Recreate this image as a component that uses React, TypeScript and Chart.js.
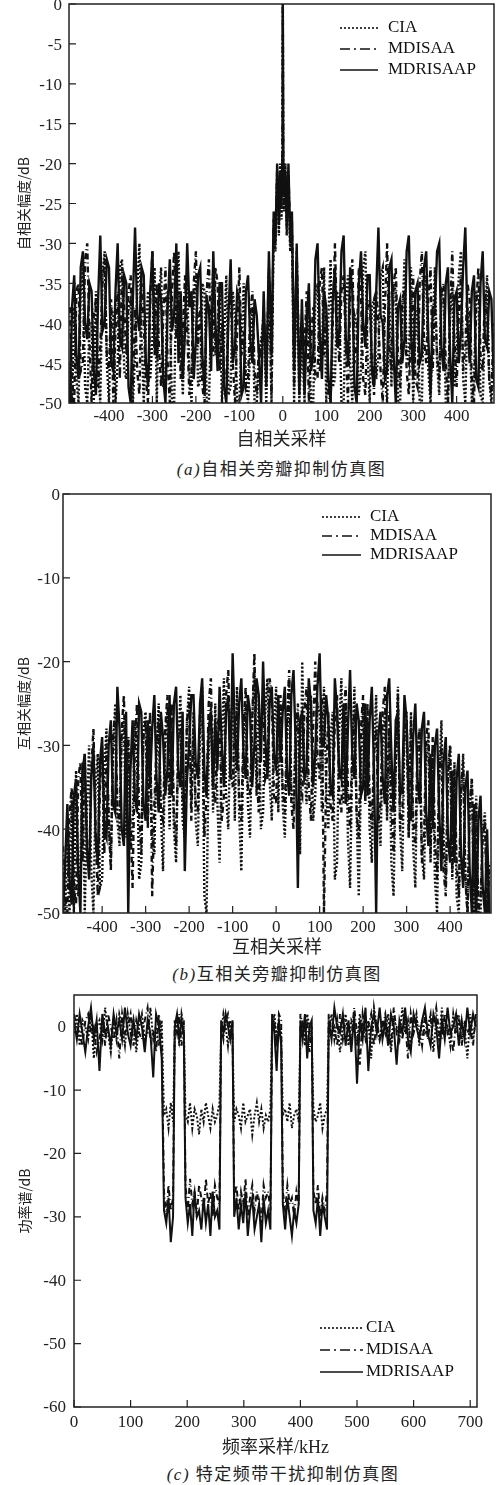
import React, { useEffect, useRef } from 'react';
import { Chart, registerables } from 'chart.js';

Chart.register(...registerables);

const SERIES = ['CIA', 'MDISAA', 'MDRISAAP'];
const FONT_SERIF = "'Liberation Serif', 'Noto Sans CJK SC', serif";
const FONT_CJK = "'Noto Sans CJK SC', sans-serif";

// ---------- Panel (a): autocorrelation sidelobes ----------
const X_A = [
  -490, -485, -480, -475, -470, -465, -460, -455, -450, -445,
  -440, -435, -430, -425, -420, -415, -410, -405, -400, -395,
  -390, -385, -380, -375, -370, -365, -360, -355, -350, -345,
  -340, -335, -330, -325, -320, -315, -310, -305, -300, -295,
  -290, -285, -280, -275, -270, -265, -260, -255, -250, -245,
  -240, -235, -230, -225, -220, -215, -210, -205, -200, -195,
  -190, -185, -180, -175, -170, -165, -160, -155, -150, -145,
  -140, -135, -130, -125, -120, -115, -110, -105, -100, -95,
  -90, -85, -80, -75, -70, -65, -60, -55, -50,
  -44, -38, -32, -26, -21, -17, -13, -9, -6, -3, -1, 0, 1, 3, 6, 9, 13, 17, 21, 26, 32, 38, 44,
  50, 55, 60, 65, 70, 75, 80, 85, 90, 95,
  100, 105, 110, 115, 120, 125, 130, 135, 140, 145,
  150, 155, 160, 165, 170, 175, 180, 185, 190, 195,
  200, 205, 210, 215, 220, 225, 230, 235, 240, 245,
  250, 255, 260, 265, 270, 275, 280, 285, 290, 295,
  300, 305, 310, 315, 320, 325, 330, 335, 340, 345,
  350, 355, 360, 365, 370, 375, 380, 385, 390, 395,
  400, 405, 410, 415, 420, 425, 430, 435, 440, 445,
  450, 455, 460, 465, 470, 475, 480, 485, 490,
];
const CIA_A = [
  -45, -50, -38, -47, -50, -36, -33, -48, -50, -40,
  -40, -50, -36, -46, -50, -34, -31, -45, -50, -38,
  -39, -50, -45, -33, -32, -46, -47, -38, -37, -50,
  -44, -36, -30, -42, -50, -40, -36, -47, -42, -33,
  -50, -37, -33, -48, -46, -36, -38, -50, -50, -35,
  -31, -43, -49, -38, -35, -46, -50, -37, -34, -48,
  -47, -35, -36, -50, -50, -39, -33, -44, -41, -35,
  -50, -42, -34, -49, -48, -36, -39, -50, -50, -42,
  -35, -47, -50, -43, -38, -50, -50, -45, -42,
  -40, -50, -34, -50, -28, -31, -22, -29, -20, -27, -21, 0, -21, -26, -20, -29, -22, -31, -28, -50, -33, -50, -42,
  -50, -38, -41, -50, -50, -37, -35, -46, -44, -33,
  -50, -39, -32, -48, -47, -36, -38, -50, -50, -37,
  -34, -45, -50, -39, -40, -49, -46, -33, -31, -44,
  -50, -38, -37, -47, -44, -34, -33, -46, -50, -36,
  -48, -35, -36, -50, -50, -40, -32, -44, -45, -33,
  -50, -42, -38, -50, -50, -36, -34, -46, -50, -41,
  -33, -45, -49, -36, -37, -50, -50, -39, -35, -48,
  -44, -34, -31, -47, -50, -38, -41, -50, -47, -36,
  -36, -49, -50, -40, -34, -47, -50, -44, -45,
];
const MDISAA_A = [
  -38, -47, -50, -36, -35, -46, -45, -32, -30, -42,
  -50, -39, -37, -48, -43, -35, -32, -44, -46, -37,
  -50, -41, -36, -47, -33, -38, -44, -36, -34, -48,
  -38, -46, -49, -35, -40, -47, -50, -37, -31, -44,
  -35, -43, -48, -39, -33, -45, -50, -36, -31, -42,
  -36, -47, -41, -34, -41, -49, -46, -35, -31, -43,
  -38, -48, -50, -36, -32, -44, -44, -33, -35, -46,
  -40, -47, -47, -38, -36, -45, -50, -41, -33, -44,
  -41, -48, -47, -39, -36, -46, -49, -43, -44,
  -38, -47, -33, -49, -27, -29, -21, -28, -22, -26, -20, 0, -20, -25, -22, -27, -21, -29, -27, -48, -31, -46, -40,
  -43, -36, -50, -42, -38, -47, -47, -35, -33, -44,
  -39, -49, -50, -40, -30, -41, -45, -36, -34, -43,
  -50, -37, -32, -45, -43, -33, -37, -47, -49, -38,
  -37, -45, -49, -36, -40, -46, -50, -38, -30, -43,
  -46, -35, -33, -44, -48, -37, -36, -46, -49, -40,
  -34, -47, -48, -35, -31, -42, -45, -37, -33, -46,
  -37, -44, -47, -36, -35, -45, -50, -38, -31, -42,
  -48, -39, -34, -46, -43, -35, -37, -47, -50, -38,
  -33, -44, -46, -36, -39, -47, -49, -40, -48,
];
const MDRISAAP_A = [
  -50, -38, -34, -44, -47, -33, -31, -40, -42, -35,
  -36, -46, -49, -37, -29, -41, -40, -32, -33, -45,
  -46, -36, -30, -42, -43, -34, -35, -48, -50, -37,
  -28, -39, -41, -33, -34, -45, -48, -36, -31, -43,
  -44, -35, -37, -47, -50, -38, -32, -41, -39, -30,
  -45, -36, -47, -41, -30, -38, -36, -47, -42, -34,
  -33, -44, -49, -37, -38, -46, -31, -40, -46, -35,
  -35, -48, -50, -39, -32, -45, -43, -36, -37, -49,
  -48, -36, -34, -42, -45, -37, -39, -44, -50,
  -36, -48, -31, -44, -26, -30, -20, -27, -21, -25, -19, 0, -19, -24, -21, -28, -20, -30, -26, -46, -30, -49, -37,
  -49, -40, -35, -46, -44, -32, -30, -41, -47, -36,
  -38, -47, -50, -37, -33, -43, -41, -31, -29, -42,
  -45, -33, -36, -48, -50, -35, -31, -40, -43, -34,
  -34, -46, -48, -36, -28, -39, -40, -47, -46, -33,
  -32, -44, -50, -38, -37, -45, -42, -31, -29, -41,
  -47, -36, -35, -45, -44, -33, -31, -42, -49, -38,
  -38, -31, -30, -43, -46, -35, -33, -44, -50, -37,
  -36, -45, -41, -33, -28, -40, -45, -36, -34, -47,
  -48, -35, -31, -42, -43, -36, -37, -46, -50,
];
const XTICKS_A = [-400, -300, -200, -100, 0, 100, 200, 300, 400];
const YTICKS_A = [0, -5, -10, -15, -20, -25, -30, -35, -40, -45, -50];

// ---------- Panel (b): cross-correlation sidelobes ----------
const X_B = [
  -490, -485, -480, -475, -470, -465, -460, -455, -450, -445,
  -440, -435, -430, -425, -420, -415, -410, -405, -400, -395,
  -390, -385, -380, -375, -370, -365, -360, -355, -350, -345,
  -340, -335, -330, -325, -320, -315, -310, -305, -300, -295,
  -290, -285, -280, -275, -270, -265, -260, -255, -250, -245,
  -240, -235, -230, -225, -220, -215, -210, -205, -200, -195,
  -190, -185, -180, -175, -170, -165, -160, -155, -150, -145,
  -140, -135, -130, -125, -120, -115, -110, -105, -100, -95,
  -90, -85, -80, -75, -70, -65, -60, -55, -50, -45,
  -40, -35, -30, -25, -20, -15, -10, -5, 0, 5,
  10, 15, 20, 25, 30, 35, 40, 45, 50, 55,
  60, 65, 70, 75, 80, 85, 90, 95, 100, 105,
  110, 115, 120, 125, 130, 135, 140, 145, 150, 155,
  160, 165, 170, 175, 180, 185, 190, 195, 200, 205,
  210, 215, 220, 225, 230, 235, 240, 245, 250, 255,
  260, 265, 270, 275, 280, 285, 290, 295, 300, 305,
  310, 315, 320, 325, 330, 335, 340, 345, 350, 355,
  360, 365, 370, 375, 380, 385, 390, 395, 400, 405,
  410, 415, 420, 425, 430, 435, 440, 445, 450, 455,
  460, 465, 470, 475, 480, 485, 490,
];
const CIA_B = [
  -46, -50, -40, -50, -36, -50, -33, -48, -44, -32,
  -50, -38, -30, -45, -50, -35, -31, -47, -46, -33,
  -28, -40, -44, -32, -25, -39, -42, -29, -27, -41,
  -29, -42, -40, -27, -31, -46, -44, -28, -26, -39,
  -29, -41, -43, -31, -25, -38, -45, -30, -26, -40,
  -28, -40, -44, -30, -24, -39, -41, -27, -23, -37,
  -26, -39, -42, -29, -23, -48, -50, -31, -25, -38,
  -25, -37, -44, -30, -22, -36, -40, -28, -24, -39,
  -23, -38, -45, -29, -25, -37, -41, -27, -21, -36,
  -24, -40, -38, -26, -22, -34, -39, -28, -23, -38,
  -25, -37, -41, -30, -22, -35, -38, -27, -26, -43,
  -20, -33, -37, -28, -24, -39, -36, -25, -26, -38,
  -23, -35, -40, -29, -26, -46, -44, -28, -22, -37,
  -25, -41, -47, -32, -23, -38, -48, -34, -25, -36,
  -27, -40, -44, -31, -24, -38, -42, -30, -26, -39,
  -28, -44, -48, -33, -23, -40, -45, -29, -27, -41,
  -26, -42, -47, -31, -28, -43, -46, -32, -29, -44,
  -30, -46, -50, -34, -27, -41, -47, -33, -30, -46,
  -32, -48, -50, -36, -31, -45, -50, -38, -34, -50,
  -36, -50, -50, -40, -38, -50, -44,
];
const MDISAA_B = [
  -42, -48, -50, -38, -35, -47, -49, -34, -32, -44,
  -31, -43, -45, -33, -28, -40, -48, -35, -30, -43,
  -30, -38, -45, -29, -26, -37, -40, -28, -24, -36,
  -29, -39, -47, -31, -25, -38, -43, -29, -27, -40,
  -26, -48, -37, -30, -27, -38, -39, -28, -24, -36,
  -25, -38, -42, -29, -28, -36, -40, -27, -25, -39,
  -28, -37, -38, -26, -24, -41, -36, -25, -22, -35,
  -37, -28, -26, -39, -36, -24, -21, -33, -35, -27,
  -26, -36, -39, -28, -23, -35, -36, -27, -19, -33,
  -38, -27, -25, -34, -33, -22, -24, -36, -37, -26,
  -24, -35, -38, -27, -21, -37, -40, -29, -25, -35,
  -36, -26, -23, -35, -39, -28, -20, -31, -34, -24,
  -50, -34, -26, -37, -39, -27, -24, -36, -38, -26,
  -23, -35, -40, -30, -26, -38, -41, -28, -24, -37,
  -25, -36, -40, -31, -28, -39, -37, -26, -23, -38,
  -26, -37, -43, -32, -24, -40, -38, -28, -26, -41,
  -27, -39, -42, -30, -28, -44, -41, -29, -27, -43,
  -29, -41, -46, -33, -30, -45, -48, -34, -30, -45,
  -33, -44, -48, -35, -32, -46, -50, -37, -34, -48,
  -37, -50, -48, -41, -39, -50, -45,
];
const MDRISAAP_B = [
  -50, -44, -37, -46, -49, -36, -34, -45, -50, -33,
  -31, -42, -46, -34, -30, -41, -44, -32, -29, -40,
  -41, -30, -27, -37, -38, -23, -28, -40, -42, -26,
  -50, -33, -27, -36, -38, -25, -26, -37, -39, -27,
  -35, -28, -24, -34, -38, -26, -29, -36, -33, -24,
  -36, -25, -23, -33, -35, -26, -45, -34, -30, -24,
  -24, -32, -34, -25, -22, -33, -36, -28, -26, -35,
  -27, -33, -23, -30, -35, -26, -24, -34, -19, -28,
  -33, -25, -22, -31, -34, -24, -26, -35, -30, -22,
  -24, -32, -20, -29, -34, -25, -23, -31, -33, -24,
  -32, -26, -23, -33, -36, -24, -21, -30, -47, -27,
  -26, -34, -33, -22, -25, -35, -31, -23, -19, -30,
  -30, -24, -27, -35, -36, -22, -26, -33, -34, -25,
  -37, -28, -21, -31, -34, -25, -27, -36, -35, -25,
  -36, -27, -23, -33, -50, -29, -26, -34, -37, -24,
  -22, -31, -38, -27, -26, -36, -35, -24, -27, -37,
  -39, -29, -25, -34, -37, -28, -26, -38, -42, -31,
  -40, -30, -28, -38, -45, -32, -29, -41, -44, -33,
  -44, -34, -31, -43, -47, -35, -33, -45, -50, -37,
  -50, -39, -36, -47, -50, -40, -50,
];
const XTICKS_B = [-400, -300, -200, -100, 0, 100, 200, 300, 400];
const YTICKS_B = [0, -10, -20, -30, -40, -50];

// ---------- Panel (c): power spectrum with notched bands ----------
const X_C = [
  0, 5, 10, 15, 20, 25, 30, 35, 40, 45, 50, 55, 60, 65, 70, 75, 80, 85, 90, 95,
  100, 105, 110, 115, 120, 125, 130, 135, 140, 145, 150, 155,
  159, 163, 167, 171, 175,
  178, 182, 186, 190, 194,
  197, 201, 205, 209, 213, 217, 221, 225, 229, 233, 237, 241, 245, 249, 253, 257,
  260, 264, 268, 272, 276, 280,
  283, 287, 291, 295, 299, 303, 307, 311, 315, 319, 323, 327, 331, 335, 339, 343, 347,
  350, 354, 358, 362, 366,
  369, 373, 377, 381, 385, 389, 393, 397,
  400, 404, 408, 412, 416, 420,
  423, 427, 431, 435, 439, 443, 447,
  450, 455, 460, 465, 470, 475, 480, 485, 490, 495,
  500, 505, 510, 515, 520, 525, 530, 535, 540, 545,
  550, 555, 560, 565, 570, 575, 580, 585, 590, 595,
  600, 605, 610, 615, 620, 625, 630, 635, 640, 645,
  650, 655, 660, 665, 670, 675, 680, 685, 690, 695,
  700, 705, 710,
];
const CIA_C = [
  -1, 2, -3, 1, 0, -2, 2, -5, 0, 1, -2, 3, -1, -4, 1, -2, 2, 0, -3, 2,
  -1, 1, -4, 0, 2, -2, -1, 3, -2, 0, -3, 1,
  -14, -13, -16, -12, -15,
  -2, 1, -3, 2, 0,
  -14, -15, -12, -16, -13, -14, -17, -13, -15, -12, -14, -16, -13, -15, -14, -12,
  -1, 2, 0, -3, 1, -1,
  -15, -13, -14, -16, -12, -15, -14, -13, -17, -14, -12, -15, -13, -16, -14, -15, -13,
  0, 2, -2, 1, -1,
  -14, -13, -15, -12, -16, -14, -13, -15,
  -1, 1, -3, 2, 0, -2,
  -13, -15, -14, -12, -16, -14, -13,
  -1, 2, -2, 1, -4, 0, 2, -3, 1, 0,
  -3, 2, 0, -2, 1, -5, 3, 0, -2, 1,
  -1, 2, -4, 1, 0, -2, 3, -1, 1, -3,
  0, 2, -3, 1, -1, 0, 2, -4, 1, -2,
  3, -1, 0, -3, 2, -1, 1, -2, 0, -5,
  2, -2, 1,
];
const MDISAA_C = [
  2, 0, -1, -3, 1, 2, -1, 0, -4, -2, 1, -3, 2, 0, -2, 1, -5, 2, -1, 0,
  2, -3, 1, -1, -2, 1, 3, -2, -1, -4, 2, -2,
  -26, -30, -25, -29, -27,
  1, -1, 2, -3, 1,
  -25, -29, -24, -28, -26, -30, -25, -27, -29, -24, -28, -26, -30, -25, -27, -28,
  0, -2, 1, 2, -1, 0,
  -27, -25, -29, -26, -28, -24, -30, -27, -25, -29, -26, -28, -31, -25, -27, -26, -29,
  -1, 1, -3, 2, 1,
  -26, -29, -25, -28, -27, -30, -26, -28,
  2, 0, -1, 1, -4, 0,
  -26, -28, -25, -30, -27, -29, -26,
  2, -1, 0, -3, 2, -2, 1, 0, -2, 3,
  -1, -6, 2, -1, 0, 2, -3, 1, -2, 0,
  2, -1, -3, 3, -1, 0, -2, 1, -5, 2,
  -1, 1, 0, -3, 2, -2, 1, 0, 3, -1,
  -2, 2, -1, 0, -4, 1, 2, -3, 1, -1,
  0, -3, 2,
];
const MDRISAAP_C = [
  1, -2, 2, -1, -4, 0, 3, -2, 1, -7, 2, -1, 0, -3, 2, -1, 1, -2, 3, -1,
  -3, 1, -2, 2, 0, -4, 1, -1, -8, 2, 0, -5,
  -29, -31, -27, -34, -30,
  0, 2, -2, 1, -1,
  -27, -31, -28, -33, -26, -30, -29, -32, -27, -31, -28, -33, -26, -30, -29, -32,
  1, -1, 2, 0, -2, 1,
  -30, -27, -32, -28, -31, -26, -33, -29, -27, -32, -30, -28, -34, -27, -31, -29, -32,
  2, -1, -7, 1, -3,
  -28, -32, -27, -30, -33, -29, -31, -28,
  1, -2, 2, -5, 0, 1,
  -29, -31, -27, -33, -28, -30, -32,
  1, -2, 3, 0, -1, 2, -3, 1, -4, 2,
  -9, 1, -2, 3, -7, 0, 2, -1, 3, -2,
  1, -3, 2, 0, -6, 1, -1, 3, -2, -4,
  2, 0, -2, 1, 3, -1, -3, 2, 0, -5,
  1, -2, 3, -1, 0, 2, -3, 1, -2, 3,
  -1, 2, 0,
];
const XTICKS_C = [0, 100, 200, 300, 400, 500, 600, 700];
const YTICKS_C = [0, -10, -20, -30, -40, -50, -60];

const LINE_DASH = [[2, 2], [6, 3, 1, 3], []];
const LEGEND_DASH = [[2, 2], [10, 4, 2, 4], []];

const framePlugin = {
  id: 'frame',
  afterDatasetsDraw(chart: any, _args: any, opts: any) {
    const { ctx, chartArea: a } = chart;
    const xs = chart.scales.x;
    const ys = chart.scales.y;
    ctx.save();
    ctx.strokeStyle = '#222';
    ctx.lineWidth = 1.2;
    ctx.setLineDash([]);
    ctx.beginPath();
    xs.ticks.forEach((t: any) => {
      const p = xs.getPixelForValue(t.value);
      ctx.moveTo(p, a.bottom);
      ctx.lineTo(p, a.bottom - 7);
    });
    ys.ticks.forEach((t: any) => {
      const p = ys.getPixelForValue(t.value);
      ctx.moveTo(a.left, p);
      ctx.lineTo(a.left + 7, p);
    });
    ctx.stroke();
    ctx.lineWidth = 1.5;
    ctx.strokeRect(a.left, a.top, a.right - a.left, a.bottom - a.top);

    const L = opts;
    chart.data.datasets.forEach((ds: any, i: number) => {
      const y = L.y0 + i * L.dy;
      ctx.strokeStyle = '#111';
      ctx.lineWidth = 1.6;
      ctx.setLineDash(LEGEND_DASH[i]);
      ctx.beginPath();
      ctx.moveTo(L.x1, y);
      ctx.lineTo(L.x2, y);
      ctx.stroke();
      ctx.setLineDash([]);
      ctx.fillStyle = '#111';
      ctx.font = "17px 'Liberation Serif'";
      ctx.textBaseline = 'middle';
      ctx.textAlign = 'left';
      ctx.fillText(ds.label, L.tx, y);
    });
    ctx.restore();
  },
};

type Spec = {
  top: number;
  height: number;
  padTop: number;
  padRight: number;
  yAxisW: number;
  xAxisH: number;
  xmin: number;
  xmax: number;
  ymin: number;
  ymax: number;
  x: number[];
  ys: number[][];
  xTicks: number[];
  yTicks: number[];
  xTitle: string;
  yTitle: string;
  yTitlePad: number;
  yTickPad: number;
  xTickPad: number;
  yLabelOffset: number;
  lineWidth: number;
  legend: { x1: number; x2: number; tx: number; y0: number; dy: number };
};

function buildConfig(spec: Spec): any {
  return {
    type: 'line',
    data: {
      datasets: spec.ys.map((arr, k) => ({
        label: SERIES[k],
        data: spec.x.map((x, i) => ({ x, y: arr[i] })),
        borderColor: '#111',
        borderWidth: spec.lineWidth,
        borderDash: LINE_DASH[k],
        pointRadius: 0,
        tension: 0,
        fill: false,
      })),
    },
    options: {
      responsive: false,
      animation: false,
      events: [],
      layout: { padding: { top: spec.padTop, right: spec.padRight, bottom: 0, left: 0 } },
      plugins: {
        legend: { display: false },
        tooltip: { enabled: false },
        frame: spec.legend,
      },
      scales: {
        x: {
          type: 'linear',
          min: spec.xmin,
          max: spec.xmax,
          grid: { display: false, drawTicks: false },
          border: { display: false },
          ticks: {
            font: { family: FONT_SERIF, size: 17 },
            color: '#222',
            padding: spec.xTickPad,
            autoSkip: false,
            maxRotation: 0,
          },
          afterBuildTicks: (s: any) => {
            s.ticks = spec.xTicks.map((v) => ({ value: v }));
          },
          afterFit: (s: any) => {
            s.height = spec.xAxisH;
            s.paddingLeft = 0;
            s.paddingRight = 0;
          },
          title: {
            display: true,
            text: spec.xTitle,
            font: { family: FONT_SERIF, size: 18 },
            color: '#222',
            padding: { top: 0, bottom: 1 },
          },
        },
        y: {
          type: 'linear',
          min: spec.ymin,
          max: spec.ymax,
          grid: { display: false, drawTicks: false },
          border: { display: false },
          ticks: {
            font: { family: FONT_SERIF, size: 17 },
            color: '#222',
            padding: spec.yTickPad,
            labelOffset: spec.yLabelOffset,
            autoSkip: false,
          },
          afterBuildTicks: (s: any) => {
            s.ticks = spec.yTicks.map((v) => ({ value: v }));
          },
          afterFit: (s: any) => {
            s.width = spec.yAxisW;
            s.paddingTop = 0;
            s.paddingBottom = 0;
          },
          title: {
            display: true,
            text: spec.yTitle,
            font: { family: FONT_CJK, size: 14 },
            color: '#222',
            padding: { top: spec.yTitlePad, bottom: 0 },
          },
        },
      },
    },
    plugins: [framePlugin],
  };
}

const SPEC_A: Spec = {
  top: 0, height: 452, padTop: 4, padRight: 2, yAxisW: 69, xAxisH: 49,
  xmin: -492, xmax: 486, ymin: -50, ymax: 0,
  x: X_A, ys: [CIA_A, MDISAA_A, MDRISAAP_A],
  xTicks: XTICKS_A, yTicks: YTICKS_A,
  xTitle: '自相关采样', yTitle: '自相关幅度/dB',
  yTitlePad: 15, yTickPad: 7, xTickPad: 3, yLabelOffset: 2, lineWidth: 2.4,
  legend: { x1: 340, x2: 378, tx: 388, y0: 28, dy: 21 },
};
const SPEC_B: Spec = {
  top: 480, height: 480, padTop: 14, padRight: 5, yAxisW: 63, xAxisH: 47,
  xmin: -490, xmax: 494, ymin: -50, ymax: 0,
  x: X_B, ys: [CIA_B, MDISAA_B, MDRISAAP_B],
  xTicks: XTICKS_B, yTicks: YTICKS_B,
  xTitle: '互相关采样', yTitle: '互相关幅度/dB',
  yTitlePad: 15, yTickPad: 3, xTickPad: 4, yLabelOffset: 2, lineWidth: 2.4,
  legend: { x1: 322, x2: 361, tx: 370, y0: 37, dy: 19 },
};
const SPEC_C: Spec = {
  top: 985, height: 475, padTop: 10, padRight: 19, yAxisW: 74, xAxisH: 53,
  xmin: 0, xmax: 712, ymin: -60, ymax: 5,
  x: X_C, ys: [CIA_C, MDISAA_C, MDRISAAP_C],
  xTicks: XTICKS_C, yTicks: YTICKS_C,
  xTitle: '频率采样/kHz', yTitle: '功率谱/dB',
  yTitlePad: 16, yTickPad: 8, xTickPad: 5, yLabelOffset: 1, lineWidth: 2,
  legend: { x1: 320, x2: 363, tx: 366, y0: 343, dy: 22 },
};

function Panel({ spec }: { spec: Spec }) {
  const ref = useRef<HTMLCanvasElement | null>(null);
  useEffect(() => {
    if (!ref.current) return;
    const chart = new Chart(ref.current, buildConfig(spec));
    return () => chart.destroy();
  }, [spec]);
  return (
    <canvas
      ref={ref}
      width={496}
      height={spec.height}
      style={{ position: 'absolute', left: 0, top: spec.top, width: 496, height: spec.height }}
    />
  );
}

function Caption({ top, left, width, tag, text }: { top: number; left: number; width: number; tag: string; text: string }) {
  return (
    <div
      style={{
        position: 'absolute',
        top,
        left,
        width,
        height: 20,
        lineHeight: '20px',
        textAlign: 'center',
        fontSize: 17,
        letterSpacing: '1.5px',
        fontFamily: FONT_SERIF,
        color: '#222',
        whiteSpace: 'nowrap',
      }}
    >
      <i>{tag}</i>
      {text}
    </div>
  );
}

export default function App() {
  return (
    <div style={{ position: 'absolute', left: 0, top: 0, width: 496, height: 1485, background: '#fff', overflow: 'hidden' }}>
      <Panel spec={SPEC_A} />
      <Caption top={460} left={69} width={425} tag="(a)" text="自相关旁瓣抑制仿真图" />
      <Panel spec={SPEC_B} />
      <Caption top={965} left={63} width={428} tag="(b)" text="互相关旁瓣抑制仿真图" />
      <Panel spec={SPEC_C} />
      <Caption top={1465} left={74} width={418} tag="(c) " text="特定频带干扰抑制仿真图" />
    </div>
  );
}
